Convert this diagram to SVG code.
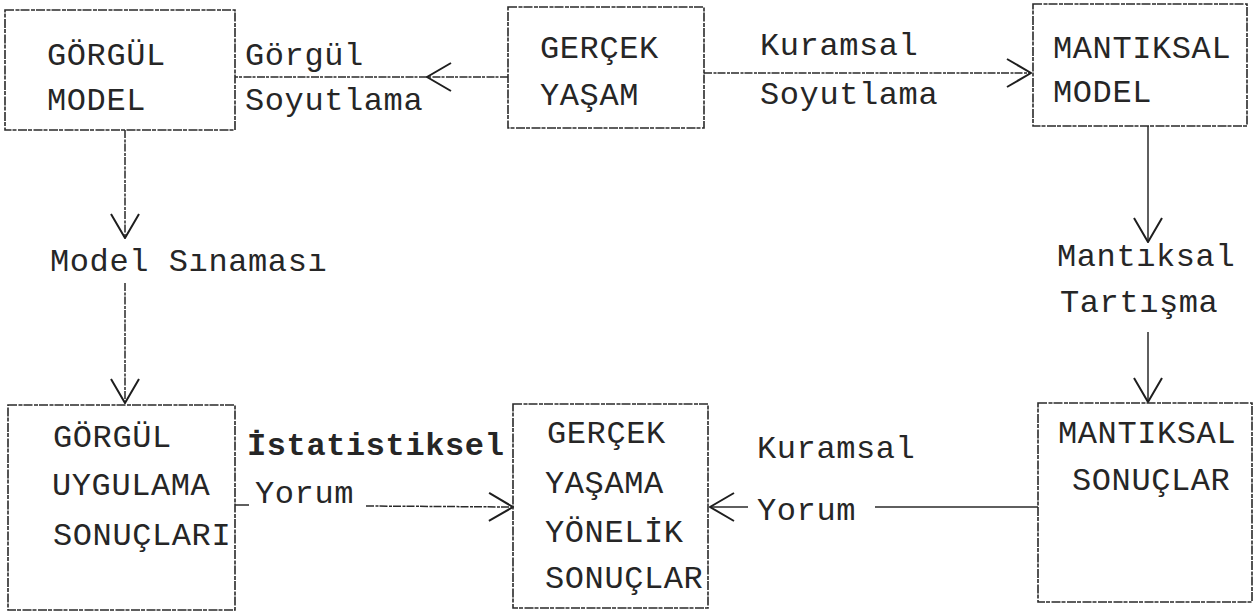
<svg xmlns="http://www.w3.org/2000/svg" width="1255" height="616" viewBox="0 0 1255 616">
<style>
.box{fill:none;stroke:#2a2a2a;stroke-width:1.6;stroke-dasharray:9 1.5 4 1}
.t{font-family:"Liberation Mono","DejaVu Sans Mono",monospace;font-size:32px;fill:#262626;letter-spacing:0.6px}
.b{font-weight:bold}
.c{fill:none;stroke:#2a2a2a;stroke-width:1.5;stroke-dasharray:8 1.5 3 1}
.cs{fill:none;stroke:#2a2a2a;stroke-width:1.5}
</style>
<defs>
<marker id="ah" markerUnits="userSpaceOnUse" viewBox="0 0 26 32" refX="25" refY="16" markerWidth="26" markerHeight="32" orient="auto">
<path d="M1,2 L25,16 L1,30" fill="none" stroke="#1e1e1e" stroke-width="2"/>
</marker>
</defs>
<rect width="1255" height="616" fill="#ffffff"/>
<g id="connectors">
<path class="c" d="M508,77 L427,77" marker-end="url(#ah)"/>
<path class="c" d="M427,77 L235,77"/>
<path class="c" d="M704,73 L1031,73" marker-end="url(#ah)"/>
<path class="c" d="M125,130 L125,238" marker-end="url(#ah)"/>
<path class="c" d="M125,283 L125,403" marker-end="url(#ah)"/>
<path class="cs" d="M1148,126 L1148,242" marker-end="url(#ah)"/>
<path class="cs" d="M1148,332 L1148,402" marker-end="url(#ah)"/>
<path class="cs" d="M235,505 L249,505"/>
<path class="c" d="M366,506 L513,507" marker-end="url(#ah)"/>
<path class="cs" d="M1038,507 L875,507"/>
<path class="cs" d="M748,507 L710,507" marker-end="url(#ah)"/>
</g>
<g id="labels">
<text class="t" x="245" y="65">Görgül</text>
<text class="t" x="245" y="110">Soyutlama</text>
<text class="t" x="760" y="55">Kuramsal</text>
<text class="t" x="760" y="104">Soyutlama</text>
<text class="t" x="50" y="271">Model Sınaması</text>
<text class="t" x="1057" y="266">Mantıksal</text>
<text class="t" x="1060" y="312">Tartışma</text>
<text class="t b" x="247" y="455">İstatistiksel</text>
<text class="t" x="255" y="503">Yorum</text>
<text class="t" x="757" y="458">Kuramsal</text>
<text class="t" x="757" y="520">Yorum</text>
</g>
<g id="gorgul-model">
<rect class="box" x="5" y="10" width="230" height="120"/>
<text class="t" x="47" y="65">GÖRGÜL</text>
<text class="t" x="47" y="110">MODEL</text>
</g>
<g id="gercek-yasam">
<rect class="box" x="508" y="7" width="196" height="121"/>
<text class="t" x="540" y="58">GERÇEK</text>
<text class="t" x="540" y="105">YAŞAM</text>
</g>
<g id="mantiksal-model">
<rect class="box" x="1033" y="4" width="214" height="122"/>
<text class="t" x="1053" y="58">MANTIKSAL</text>
<text class="t" x="1053" y="102">MODEL</text>
</g>
<g id="gorgul-uygulama-sonuclari">
<rect class="box" x="8" y="405" width="227" height="205"/>
<text class="t" x="53" y="447">GÖRGÜL</text>
<text class="t" x="52" y="495">UYGULAMA</text>
<text class="t" x="53" y="545">SONUÇLARI</text>
</g>
<g id="gercek-yasama-yonelik-sonuclar">
<rect class="box" x="513" y="404" width="195" height="204"/>
<text class="t" x="547" y="443">GERÇEK</text>
<text class="t" x="545" y="493">YAŞAMA</text>
<text class="t" x="545" y="542">YÖNELİK</text>
<text class="t" x="545" y="588">SONUÇLAR</text>
</g>
<g id="mantiksal-sonuclar">
<rect class="box" x="1038" y="403" width="214" height="199"/>
<text class="t" x="1058" y="443">MANTIKSAL</text>
<text class="t" x="1072" y="490">SONUÇLAR</text>
</g>
</svg>
